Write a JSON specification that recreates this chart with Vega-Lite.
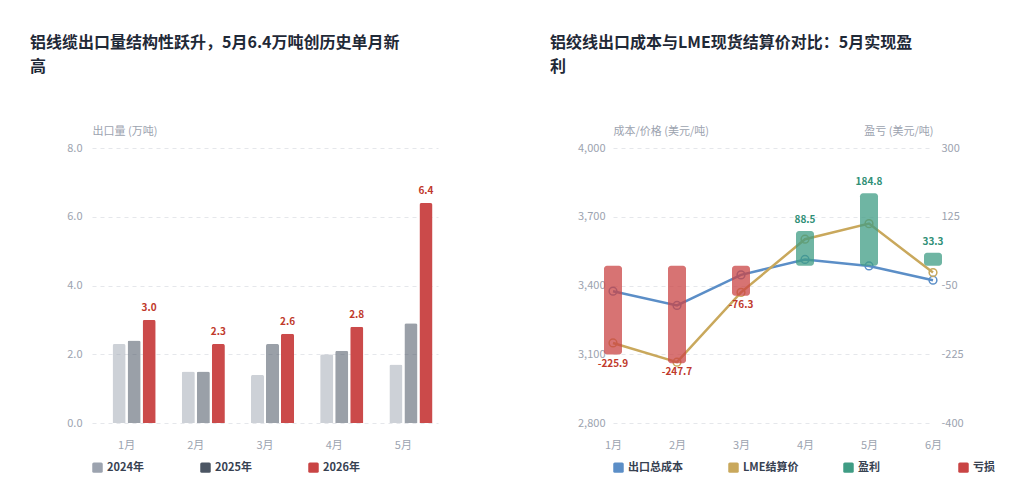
{
  "$schema": "https://vega.github.io/schema/vega-lite/v6.json",
  "background": "white",
  "padding": {"left": 30, "top": 35, "right": 0, "bottom": 0},
  "config": {
    "font": "Noto Sans CJK SC",
    "locale": {
      "number": {"decimal": ".", "thousands": ",", "grouping": [3], "currency": ["$", ""], "minus": "-"}
    },
    "view": {"stroke": null},
    "axis": {
      "labelColor": "#9ca3af", "labelFontSize": 11, "titleColor": "#9ca3af",
      "titleFontSize": 11, "titleFontWeight": "normal", "domain": false, "ticks": false,
      "gridColor": "#e5e7eb", "gridDash": [4, 4]
    },
    "legend": {
      "labelColor": "#374151", "labelFontSize": 11, "labelFontWeight": "bold",
      "symbolSize": 110, "symbolOpacity": 1, "symbolStrokeWidth": 0,
      "symbolType": "M-0.7,-1H0.7Q1,-1,1,-0.7V0.7Q1,1,0.7,1H-0.7Q-1,1,-1,0.7V-0.7Q-1,-1,-0.7,-1Z"
    },
    "title": {
      "anchor": "start", "frame": "group", "fontSize": 16, "fontWeight": "bold",
      "color": "#1f2937", "lineHeight": 24
    }
  },
  "datasets": {
    "volume": [
      {"month": "1月", "year": "2024年", "v": 2.3}, {"month": "1月", "year": "2025年", "v": 2.4}, {"month": "1月", "year": "2026年", "v": 3.0},
      {"month": "2月", "year": "2024年", "v": 1.5}, {"month": "2月", "year": "2025年", "v": 1.5}, {"month": "2月", "year": "2026年", "v": 2.3},
      {"month": "3月", "year": "2024年", "v": 1.4}, {"month": "3月", "year": "2025年", "v": 2.3}, {"month": "3月", "year": "2026年", "v": 2.6},
      {"month": "4月", "year": "2024年", "v": 2.0}, {"month": "4月", "year": "2025年", "v": 2.1}, {"month": "4月", "year": "2026年", "v": 2.8},
      {"month": "5月", "year": "2024年", "v": 1.7}, {"month": "5月", "year": "2025年", "v": 2.9}, {"month": "5月", "year": "2026年", "v": 6.4}
    ],
    "price": [
      {"month": "1月", "series": "出口总成本", "value": 3375}, {"month": "1月", "series": "LME结算价", "value": 3149.1},
      {"month": "2月", "series": "出口总成本", "value": 3313}, {"month": "2月", "series": "LME结算价", "value": 3065.3},
      {"month": "3月", "series": "出口总成本", "value": 3446.3}, {"month": "3月", "series": "LME结算价", "value": 3370},
      {"month": "4月", "series": "出口总成本", "value": 3513.5}, {"month": "4月", "series": "LME结算价", "value": 3602},
      {"month": "5月", "series": "出口总成本", "value": 3485.2}, {"month": "5月", "series": "LME结算价", "value": 3670},
      {"month": "6月", "series": "出口总成本", "value": 3423}, {"month": "6月", "series": "LME结算价", "value": 3456.3}
    ],
    "pl": [
      {"month": "1月", "kind": "亏损", "pl": -225.9},
      {"month": "2月", "kind": "亏损", "pl": -247.7},
      {"month": "3月", "kind": "亏损", "pl": -76.3},
      {"month": "4月", "kind": "盈利", "pl": 88.5},
      {"month": "5月", "kind": "盈利", "pl": 184.8},
      {"month": "6月", "kind": "盈利", "pl": 33.3}
    ]
  },
  "spacing": 112,
  "resolve": {
    "scale": {"color": "independent", "x": "independent", "y": "independent"},
    "legend": {"color": "independent"}
  },
  "hconcat": [
    {
      "width": 346,
      "height": 275,
      "title": {"text": ["铝线缆出口量结构性跃升，5月6.4万吨创历史单月新", "高"], "dx": -62, "offset": 50},
      "data": {"name": "volume"},
      "encoding": {
        "x": {
          "field": "month", "type": "nominal", "sort": null, "title": null,
          "scale": {"paddingInner": 0.16, "paddingOuter": 0.08},
          "axis": {"labelAngle": 0, "labelPadding": 16}
        },
        "y": {
          "field": "v", "type": "quantitative",
          "scale": {"domain": [0, 8]},
          "axis": {
            "values": [0, 2, 4, 6, 8], "format": ".1f", "labelPadding": 10,
            "title": "出口量 (万吨)", "titleAngle": 0, "titleAlign": "left",
            "titleBaseline": "bottom", "titleX": 0, "titleY": -12
          }
        },
        "xOffset": {
          "field": "year", "type": "nominal",
          "scale": {"domain": ["", "2024年", "2025年", "2026年"], "paddingInner": 0.13}
        }
      },
      "layer": [
        {
          "mark": {"type": "bar", "cornerRadiusTopLeft": 2, "cornerRadiusTopRight": 2},
          "encoding": {
            "color": {
              "field": "year", "type": "nominal",
              "scale": {"domain": ["2024年", "2025年", "2026年"], "range": ["#9ca3af", "#4b5563", "#c94444"]},
              "legend": {
                "title": null, "orient": "bottom", "direction": "horizontal", "columns": 3,
                "gridAlign": "all", "columnPadding": 56, "offset": 12
              }
            },
            "opacity": {
              "condition": [
                {"test": "datum.year === '2026年'", "value": 0.97},
                {"test": "datum.year === '2025年'", "value": 0.56}
              ],
              "value": 0.5
            }
          }
        },
        {
          "transform": [{"filter": "datum.year === '2026年'"}],
          "mark": {"type": "text", "dy": -7, "fontSize": 10, "fontWeight": "bold", "color": "#c0392b", "baseline": "bottom"},
          "encoding": {"text": {"field": "v", "type": "quantitative", "format": ".1f"}}
        }
      ]
    },
    {
      "width": 320,
      "height": 275,
      "title": {"text": ["铝绞线出口成本与LME现货结算价对比：5月实现盈", "利"], "dx": -63, "offset": 50},
      "encoding": {
        "x": {
          "field": "month", "type": "ordinal", "sort": null, "title": null,
          "scale": {"type": "point", "padding": 0},
          "axis": {"labelAngle": 0, "labelPadding": 16}
        }
      },
      "layer": [
        {
          "data": {"name": "price"},
          "mark": {"type": "line", "strokeWidth": 2.5, "point": {"filled": false, "size": 60, "strokeWidth": 1.5}},
          "encoding": {
            "y": {
              "field": "value", "type": "quantitative",
              "scale": {"domain": [2800, 4000]},
              "axis": {
                "orient": "left", "values": [2800, 3100, 3400, 3700, 4000], "format": ",.0f", "labelPadding": 8,
                "title": "成本/价格 (美元/吨)", "titleAngle": 0, "titleAlign": "left",
                "titleBaseline": "bottom", "titleX": 0, "titleY": -12
              }
            },
            "color": {
              "field": "series", "type": "nominal",
              "scale": {"domain": ["出口总成本", "LME结算价", "盈利", "亏损"], "range": ["#5b8ec7", "#c9a85c", "#3f9c84", "#c94444"]},
              "legend": {
                "title": null, "orient": "bottom", "direction": "horizontal", "columns": 4,
                "gridAlign": "all", "columnPadding": 44, "offset": 12
              }
            }
          }
        },
        {
          "data": {"name": "pl"},
          "encoding": {
            "y": {
              "field": "pl", "type": "quantitative",
              "scale": {"domain": [-400, 300]},
              "axis": {
                "orient": "right", "grid": false, "values": [-400, -225, -50, 125, 300], "labelPadding": 8,
                "title": "盈亏 (美元/吨)", "titleAngle": 0, "titleAlign": "right",
                "titleBaseline": "bottom", "titleX": 0, "titleY": -12
              }
            }
          },
          "layer": [
            {
              "mark": {"type": "bar", "width": 18, "opacity": 0.75, "cornerRadius": 3},
              "encoding": {
                "y2": {"datum": 0},
                "color": {"field": "kind", "type": "nominal"}
              }
            },
            {
              "transform": [{"filter": "datum.pl >= 0"}],
              "mark": {"type": "text", "dy": -6, "baseline": "bottom", "fontSize": 10, "fontWeight": "bold", "color": "#2f8f76"},
              "encoding": {"text": {"field": "pl", "type": "quantitative", "format": ".1f"}}
            },
            {
              "transform": [{"filter": "datum.pl < 0"}],
              "mark": {"type": "text", "dy": 4, "baseline": "top", "fontSize": 10, "fontWeight": "bold", "color": "#c0392b"},
              "encoding": {"text": {"field": "pl", "type": "quantitative", "format": ".1f"}}
            }
          ]
        }
      ],
      "resolve": {"scale": {"y": "independent"}}
    }
  ]
}
